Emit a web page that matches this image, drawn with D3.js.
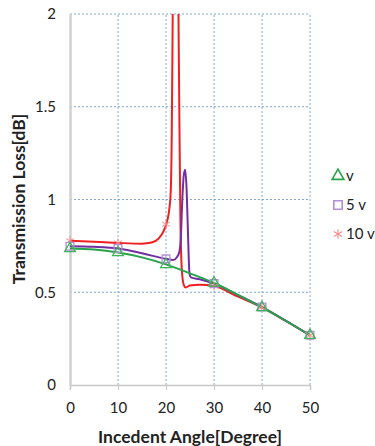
<!DOCTYPE html>
<html>
<head>
<meta charset="utf-8">
<script src="https://cdn.jsdelivr.net/npm/d3@7"></script>
<style>
  body { margin: 0; background: #fff; }
  text { font-family: Lato, "Open Sans", sans-serif; }
</style>
</head>
<body>
<div id="chart"></div>
<script>
// marker positions (one per 10 degrees)
const angles = [0, 10, 20, 30, 40, 50]
const vMarks = [0.736, 0.714, 0.65, 0.55, 0.418, 0.268]
const v5Marks = [0.748, 0.736, 0.68, 0.547, 0.42, 0.268]
const v10Marks = [0.777, 0.766, 0.867, 0.533, 0.418, 0.268]

// curves
const vCurve = [[0,0.736],[5,0.73],[10,0.714],[15,0.688],[20,0.65],[25,0.602],[30,0.55],[35,0.486],[40,0.418],[45,0.345],[50,0.268]]
const v5Curve = [[0,0.748],[5,0.745],[10,0.736],[15,0.71],[20,0.68],[21.5,0.674],[22.3,0.69],[22.8,0.72],[23.1,0.8],[23.4,1.0],[23.7,1.13],[24.0,1.16],[24.3,1.05],[24.6,0.8],[24.9,0.6],[25.2,0.58],[27,0.57],[30,0.547],[35,0.485],[40,0.42],[45,0.346],[50,0.268]]
const v10Curve = [[0,0.777],[5,0.772],[10,0.766],[15,0.762],[17,0.768],[18.5,0.79],[19.5,0.83],[20.2,0.88],[20.7,0.95],[21.0,1.05],[21.2,1.35],[21.4,2.0],[21.6,2.6],[22.0,3.0],[22.4,2.6],[22.6,2.0],[22.8,1.4],[23.0,0.9],[23.3,0.62],[23.7,0.54],[24.1,0.526],[25,0.536],[27,0.54],[30,0.533],[35,0.476],[40,0.418],[45,0.345],[50,0.268]]

const xTicks = [0, 10, 20, 30, 40, 50]
const yTicks = [0, 0.5, 1, 1.5, 2]
const legendNames = ["v", "5 v", "10 v"]

const W = 375, H = 446
const svg = d3.select("#chart").append("svg").attr("width", W).attr("height", H)

const xScale = d3.scaleLinear().domain([0, 50]).range([70, 310])
const yScale = d3.scaleLinear().domain([0, 2]).range([385, 14])

// grid
const grid = svg.append("g")
grid.selectAll("line.gx").data(xTicks.slice(1)).join("line")
  .attr("x1", d => xScale(d)).attr("x2", d => xScale(d))
  .attr("y1", yScale(0)).attr("y2", yScale(2))
  .attr("stroke", "#7ea6d8").attr("stroke-dasharray", "2,2")
grid.selectAll("line.gy").data(yTicks.slice(1)).join("line")
  .attr("x1", xScale(0)).attr("x2", xScale(50))
  .attr("y1", d => yScale(d)).attr("y2", d => yScale(d))
  .attr("stroke", "#7ea6d8").attr("stroke-dasharray", "2,2")

// axes
const xAxis = svg.append("g").attr("transform", "translate(0," + yScale(0) + ")")
  .call(d3.axisBottom(xScale).tickValues(xTicks).tickSize(5).tickPadding(12))
xAxis.select(".domain").attr("stroke", "#c8c8c8").attr("stroke-width", 1.5)
xAxis.selectAll(".tick line").attr("stroke", "#c8c8c8")
xAxis.selectAll("text").attr("font-size", 15).attr("fill", "#222")

const yAxis = svg.append("g").attr("transform", "translate(" + xScale(0) + ",0)")
  .call(d3.axisLeft(yScale).tickValues(yTicks).tickSize(0).tickPadding(14).tickFormat(d3.format("")))
yAxis.select(".domain").attr("stroke", "#d0d0d0").attr("stroke-width", 2.5)
yAxis.selectAll("text").attr("font-size", 15).attr("fill", "#222")

svg.append("defs").append("clipPath").attr("id", "plotclip")
  .append("rect").attr("x", xScale(0)).attr("y", yScale(2))
  .attr("width", xScale(50) - xScale(0)).attr("height", yScale(0) - yScale(2))

const line = d3.line().x(d => xScale(d[0])).y(d => yScale(d[1])).curve(d3.curveMonotoneX)

const series = [
  { curve: v10Curve, marks: v10Marks, color: "#f02020", mark: "#ff8a8a", sym: d3.symbolAsterisk, size: 55 },
  { curve: v5Curve, marks: v5Marks, color: "#7030a0", mark: "#b48ed6", sym: d3.symbolSquare, size: 60 },
  { curve: vCurve, marks: vMarks, color: "#27a348", mark: "#3cb25a", sym: d3.symbolTriangle, size: 50 }
]

const plot = svg.append("g").attr("clip-path", "url(#plotclip)")
for (const s of series) {
  plot.append("path").datum(s.curve).attr("d", line)
    .attr("fill", "none").attr("stroke", s.color).attr("stroke-width", 2)
}
for (const s of series) {
  svg.append("g").selectAll("path").data(angles).join("path")
    .attr("transform", (d, i) => "translate(" + xScale(d) + "," + yScale(s.marks[i]) + ")")
    .attr("d", d3.symbol().type(s.sym).size(s.size))
    .attr("fill", "none").attr("stroke", s.mark).attr("stroke-width", s.sym === d3.symbolAsterisk ? 1 : 1.3)
}

// legend
const leg = svg.append("g")
const legOrder = [series[2], series[1], series[0]]
legOrder.forEach((s, i) => {
  const y = 176 + i * 29
  leg.append("path").attr("transform", "translate(338," + y + ")")
    .attr("d", d3.symbol().type(s.sym).size(s.size + 10))
    .attr("fill", "none").attr("stroke", s.sym === d3.symbolTriangle ? s.color : s.mark)
    .attr("stroke-width", s.sym === d3.symbolAsterisk ? 1.1 : 1.6)
  leg.append("text").attr("x", 346).attr("y", y + 5).attr("font-size", 15).attr("fill", "#222")
    .text(legendNames[i])
})

// titles
svg.append("text").attr("x", 190).attr("y", 443).attr("text-anchor", "middle")
  .attr("font-size", 17.5).attr("font-weight", "bold").attr("fill", "#222")
  .text("Incedent Angle[Degree]")
svg.append("text").attr("transform", "translate(25,199) rotate(-90)").attr("text-anchor", "middle")
  .attr("font-size", 17.5).attr("font-weight", "bold").attr("fill", "#222")
  .text("Transmission Loss[dB]")
</script>
</body>
</html>
